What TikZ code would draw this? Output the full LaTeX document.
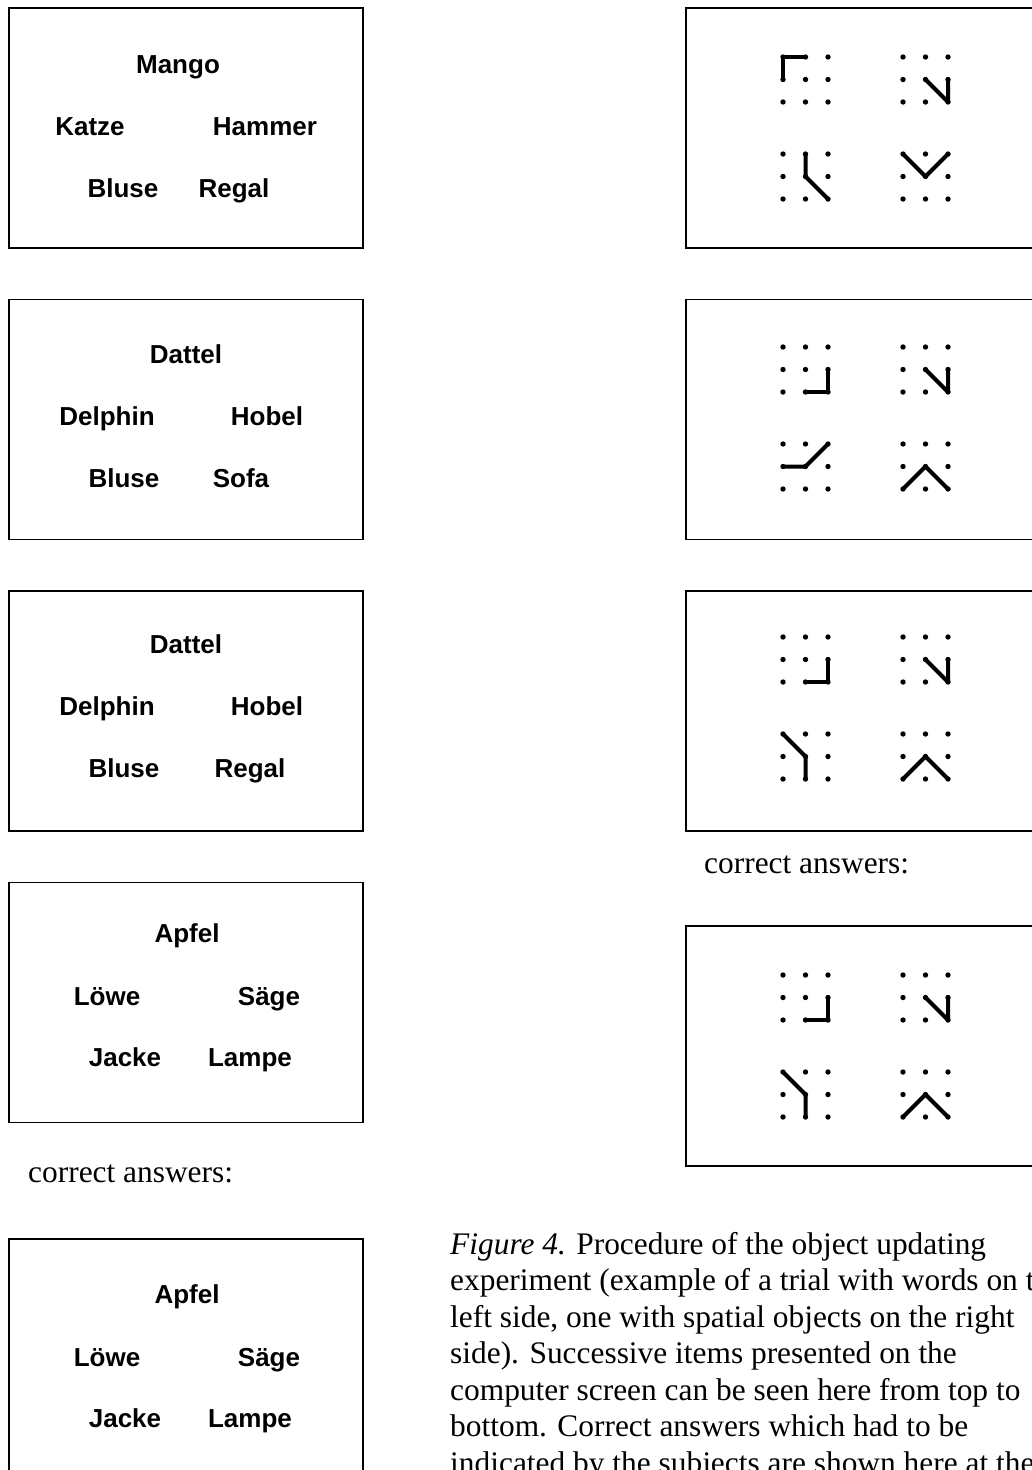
\documentclass[tikz,border=0pt]{standalone}
\usepackage{fontspec}
\setmainfont{Liberation Serif}
\newfontfamily\wordfont{Liberation Sans}
\usetikzlibrary{positioning}

\tikzset{
  pics/dotgrid/.style={code={
    \foreach \i in {0,1,2} {\foreach \j in {0,1,2} {
      \coordinate (-\i\j) at (22.5*\i,22.5*\j);
      \fill (-\i\j) circle (2.7pt);
    }}
  }}
}

\begin{document}
\begin{tikzpicture} [
            x=1pt, y=-1pt,
            screen/.style={draw, line width=1.6pt, inner sep=0pt, minimum width=354pt, minimum height=240pt},
            word/.style={font=\wordfont\bfseries\fontsize{26}{30}\selectfont, anchor=base, inner sep=0pt},
            note/.style={font=\fontsize{31.4}{36.5}\selectfont, anchor=base west, inner sep=0pt},
            stroke/.style={line width=4pt, line cap=round, line join=round}
          ]

\useasboundingbox (0,0) rectangle (1032,1470);
\fill[white] (0,0) rectangle (1032,1470);
\clip (0,0) rectangle (1032,1470);

% word screens (left)
\node (l1) [screen, anchor=north west] at (8,7) {};
\node (l2) [screen, below=50pt of l1] {};
\node (l3) [screen, below=50pt of l2] {};
\node (l4) [screen, below=50pt of l3] {};
\node (l5) [screen, anchor=north west] at (8,1238) {};

\node (mango)  [word] at (178,73)  {Mango};
\node (katze)  [word] at (90,135)  {Katze};
\node (hammer) [word] at (265,135) {Hammer};
\node (bluse1) [word] at (123,197) {Bluse};
\node (regal1) [word] at (234,197) {Regal};

\node (dattel2)  [word] at (186,363) {Dattel};
\node (delphin2) [word] at (107,425) {Delphin};
\node (hobel2)   [word] at (267,425) {Hobel};
\node (bluse2)   [word] at (124,487) {Bluse};
\node (sofa2)    [word] at (241,487) {Sofa};

\node (dattel3)  [word] at (186,653) {Dattel};
\node (delphin3) [word] at (107,715) {Delphin};
\node (hobel3)   [word] at (267,715) {Hobel};
\node (bluse3)   [word] at (124,777) {Bluse};
\node (regal3)   [word] at (250,777) {Regal};

\foreach \t/\s in {877/4, 1238/5} {
  \node (apfel\s) [word] at (187,\t+65)  {Apfel};
  \node (loewe\s) [word] at (107,\t+128) {Löwe};
  \node (saege\s) [word] at (269,\t+128) {Säge};
  \node (jacke\s) [word] at (125,\t+189) {Jacke};
  \node (lampe\s) [word] at (250,\t+189) {Lampe};
}

\node (ansl) [note] at (28,1182) {correct answers:};

% spatial screens (right)
\node (r1) [screen, anchor=north west] at (685,7) {};
\node (r2) [screen, below=50pt of r1] {};
\node (r3) [screen, below=50pt of r2] {};
\node (r4) [screen, anchor=north west] at (685,925) {};

\node (ansr) [note] at (704,873) {correct answers:};

\pic (a1) at (783,57)  {dotgrid};
\pic (b1) at (903,57)  {dotgrid};
\pic (c1) at (783,154) {dotgrid};
\pic (d1) at (903,154) {dotgrid};
\pic (a2) at (783,347) {dotgrid};
\pic (b2) at (903,347) {dotgrid};
\pic (c2) at (783,444) {dotgrid};
\pic (d2) at (903,444) {dotgrid};
\pic (a3) at (783,637) {dotgrid};
\pic (b3) at (903,637) {dotgrid};
\pic (c3) at (783,734) {dotgrid};
\pic (d3) at (903,734) {dotgrid};
\pic (a4) at (783,975)  {dotgrid};
\pic (b4) at (903,975)  {dotgrid};
\pic (c4) at (783,1072) {dotgrid};
\pic (d4) at (903,1072) {dotgrid};

\draw[stroke] (a1-01) -- (a1-00) -- (a1-10);
\draw[stroke] (b1-11) -- (b1-22) -- (b1-21);
\draw[stroke] (c1-10) -- (c1-11) -- (c1-22);
\draw[stroke] (d1-00) -- (d1-11) -- (d1-20);

\draw[stroke] (a2-21) -- (a2-22) -- (a2-12);
\draw[stroke] (b2-11) -- (b2-22) -- (b2-21);
\draw[stroke] (c2-01) -- (c2-11) -- (c2-20);
\draw[stroke] (d2-02) -- (d2-11) -- (d2-22);

\foreach \k in {3,4} {
  \draw[stroke] (a\k-21) -- (a\k-22) -- (a\k-12);
  \draw[stroke] (b\k-11) -- (b\k-22) -- (b\k-21);
  \draw[stroke] (c\k-00) -- (c\k-11) -- (c\k-12);
  \draw[stroke] (d\k-02) -- (d\k-11) -- (d\k-22);
}

% caption
\foreach \txt [count=\k from 0] in {
    {\textit{Figure 4.} Procedure of the object updating},
    {experiment (example of a trial with words on the},
    {left side, one with spatial objects on the right},
    {side). Successive items presented on the},
    {computer screen can be seen here from top to},
    {bottom. Correct answers which had to be},
    {indicated by the subjects are shown here at the}}
  \node (cap\k) [note] at (450,1254+36.5*\k) {\txt};

\end{tikzpicture}
\end{document}
